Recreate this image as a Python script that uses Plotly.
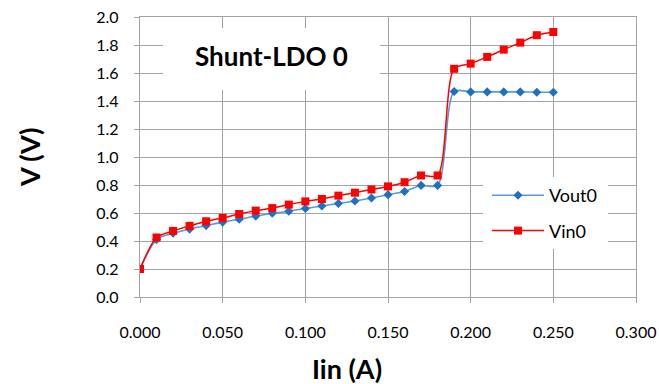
import plotly.graph_objects as go

# Load current (A) and measured voltages (V)
iin = [0.00, 0.01, 0.02, 0.03, 0.04, 0.05, 0.06, 0.07, 0.08, 0.09, 0.10, 0.11, 0.12,
       0.13, 0.14, 0.15, 0.16, 0.17, 0.18, 0.19, 0.20, 0.21, 0.22, 0.23, 0.24, 0.25]
vout0 = [0.20, 0.41, 0.455, 0.485, 0.51, 0.535, 0.555, 0.578, 0.598, 0.613, 0.632, 0.65, 0.668,
         0.686, 0.707, 0.731, 0.754, 0.797, 0.797, 1.468, 1.465, 1.465, 1.465, 1.465, 1.463, 1.463]
vin0 = [0.20, 0.425, 0.472, 0.508, 0.541, 0.565, 0.593, 0.617, 0.635, 0.66, 0.683, 0.70, 0.724,
        0.745, 0.768, 0.79, 0.82, 0.868, 0.868, 1.63, 1.667, 1.715, 1.767, 1.817, 1.87, 1.893]

x_ticks = [0.0, 0.05, 0.10, 0.15, 0.20, 0.25, 0.30]
y_ticks = [0.0, 0.2, 0.4, 0.6, 0.8, 1.0, 1.2, 1.4, 1.6, 1.8, 2.0]

FONT = "Lato"
GRID = "#a3a3a3"

# plot-area geometry in pixels
L, R, T, B = 140, 23, 17, 87
W, H = 659, 384
PW, PH = W - L - R, H - T - B


def px_x(px):
    return (px - L) / PW


def px_y(py):
    return (H - B - py) / PH


fig = go.Figure()
fig.add_trace(go.Scatter(
    x=iin, y=vout0, name="Vout0", mode="lines+markers",
    line=dict(color="#5b9bd5", width=1.6, shape="spline", smoothing=0.8),
    marker=dict(symbol="diamond", size=7, color="#1f6fc5"),
    legendgroup="a",
))
fig.add_trace(go.Scatter(
    x=iin, y=vin0, name="Vin0", mode="lines+markers",
    line=dict(color="#ff0000", width=1.5, shape="spline", smoothing=0.8),
    marker=dict(symbol="square", size=8, color="#ff0000"),
    legendgroup="b",
))

axis_common = dict(
    showgrid=True, gridcolor=GRID, gridwidth=1.3,
    showline=True, linecolor=GRID, linewidth=1.3, mirror=True,
    ticks="outside", ticklen=5, tickcolor=GRID, tickwidth=1.3,
    zeroline=False, automargin=False,
    tickfont=dict(family=FONT, size=16, color="#000000"),
)

fig.update_xaxes(range=[0, 0.3], tickvals=x_ticks, tickformat=".3f",
                 ticklabelstandoff=16, **axis_common)
fig.update_yaxes(range=[0, 2.0], tickvals=y_ticks, tickformat=".1f",
                 ticklabelstandoff=12, **axis_common)

fig.update_layout(
    width=W, height=H,
    margin=dict(l=L, r=R, t=T, b=B, autoexpand=False),
    paper_bgcolor="white", plot_bgcolor="white",
    font=dict(family=FONT, color="#000000"),
    showlegend=True,
    legend=dict(
        x=px_x(487), y=px_y(177), xanchor="left", yanchor="top",
        bgcolor="white", borderwidth=0,
        font=dict(family=FONT, size=18),
        itemwidth=52, tracegroupgap=9,
    ),
    shapes=[
        # white panel behind the chart caption
        dict(type="rect", xref="paper", yref="paper", layer="above",
             x0=px_x(163), x1=px_x(380), y0=px_y(90), y1=px_y(28),
             fillcolor="white", line=dict(width=0)),
        # white panel behind the legend
        dict(type="rect", xref="paper", yref="paper", layer="above",
             x0=px_x(483), x1=px_x(608), y0=px_y(248), y1=px_y(178),
             fillcolor="white", line=dict(width=0)),
    ],
    annotations=[
        dict(text="<b>Shunt-LDO 0</b>", xref="paper", yref="paper",
             x=px_x(271), y=px_y(56),
             xanchor="center", yanchor="middle", showarrow=False,
             font=dict(family=FONT, size=26)),
        dict(text="<b>Iin (A)</b>", xref="paper", yref="paper",
             x=px_x(347), y=px_y(368),
             xanchor="center", yanchor="middle", showarrow=False,
             font=dict(family=FONT, size=27)),
        dict(text="<b>V (V)</b>", xref="paper", yref="paper",
             x=px_x(29), y=px_y(158),
             xanchor="center", yanchor="middle", showarrow=False,
             textangle=-90, font=dict(family=FONT, size=27)),
    ],
)

fig.write_html("out.html")
